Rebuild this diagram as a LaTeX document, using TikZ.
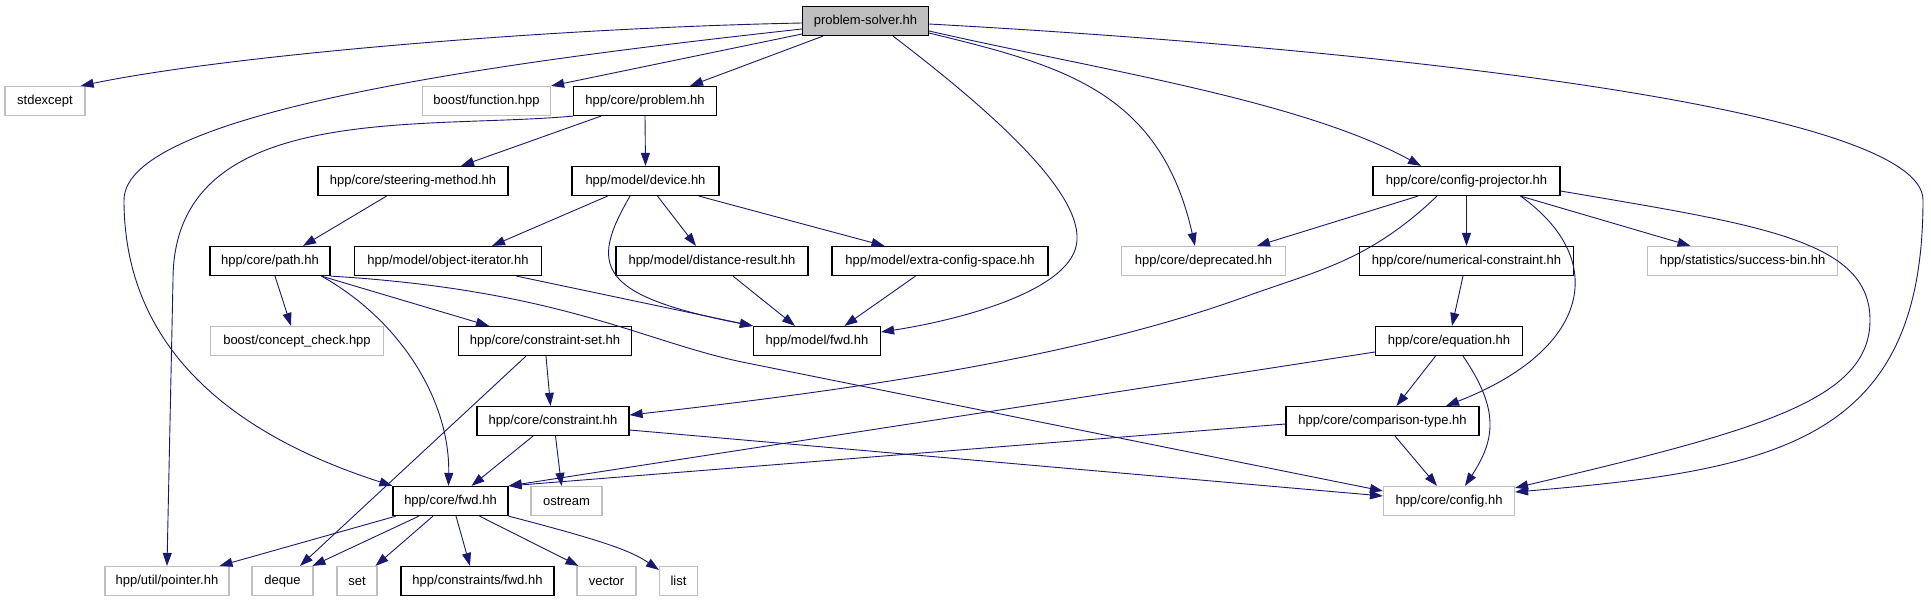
\documentclass[tikz,border=0pt]{standalone}
\usepackage{fontspec}
\setmainfont{Liberation Sans}
\usetikzlibrary{arrows.meta}
\definecolor{edgeblue}{HTML}{191970}
\definecolor{grayborder}{HTML}{BFBFBF}
\definecolor{psfill}{HTML}{BFBFBF}
\tikzset{
  filebox/.style={draw=black, line width=1.2pt, fill=white, minimum height=29pt, inner sep=0pt, font=\fontsize{13}{15}\selectfont},
  extbox/.style={draw=grayborder, line width=1.2pt, fill=white, minimum height=29pt, inner sep=0pt, font=\fontsize{13}{15}\selectfont},
  rootbox/.style={filebox, fill=psfill},
  edge/.style={draw=edgeblue, line width=0.9pt, -{Triangle[length=13pt,width=9pt]}},
}
\begin{document}
\begin{tikzpicture}[x=1pt,y=-1pt]
\useasboundingbox (0,0) rectangle (1931,603);
\fill[white] (0,0) rectangle (1931,603);
% nodes
\node[rootbox, minimum width=126pt] (ps) at (865.5,21) {problem-solver.hh};
\node[extbox, minimum width=80pt] (stdexcept) at (45,101) {stdexcept};
\node[extbox, minimum width=128pt] (bfunc) at (486.5,101) {boost/function.hpp};
\node[filebox, minimum width=143pt] (problem) at (645,101) {hpp/core/problem.hh};
\node[filebox, minimum width=190pt] (steering) at (413,181) {hpp/core/steering-method.hh};
\node[filebox, minimum width=147pt] (device) at (645.5,181) {hpp/model/device.hh};
\node[filebox, minimum width=187pt] (cproj) at (1466.5,181) {hpp/core/config-projector.hh};
\node[filebox, minimum width=120pt] (path) at (270,261) {hpp/core/path.hh};
\node[filebox, minimum width=187pt] (objit) at (448,261) {hpp/model/object-iterator.hh};
\node[filebox, minimum width=192pt] (distres) at (712,261) {hpp/model/distance-result.hh};
\node[filebox, minimum width=216pt] (extracs) at (940,261) {hpp/model/extra-config-space.hh};
\node[extbox, minimum width=164pt] (deprec) at (1203.5,261) {hpp/core/deprecated.hh};
\node[filebox, minimum width=214pt] (numc) at (1466.5,261) {hpp/core/numerical-constraint.hh};
\node[extbox, minimum width=190pt] (succ) at (1742.5,261) {hpp/statistics/success-bin.hh};
\node[extbox, minimum width=173pt] (concept) at (297,341) {boost/concept\_check.hpp};
\node[filebox, minimum width=173pt] (cset) at (545,341) {hpp/core/constraint-set.hh};
\node[filebox, minimum width=127pt] (mfwd) at (817,341) {hpp/model/fwd.hh};
\node[filebox, minimum width=147pt] (equation) at (1449,341) {hpp/core/equation.hh};
\node[filebox, minimum width=152pt] (constraint) at (553,421) {hpp/core/constraint.hh};
\node[filebox, minimum width=193pt] (comptype) at (1382.5,421) {hpp/core/comparison-type.hh};
\node[filebox, minimum width=115pt] (cfwd) at (450.5,501) {hpp/core/fwd.hh};
\node[extbox, minimum width=71pt] (ostream) at (566.5,501) {ostream};
\node[extbox, minimum width=131pt] (config) at (1449,501) {hpp/core/config.hh};
\node[extbox, minimum width=124pt] (pointer) at (167,581) {hpp/util/pointer.hh};
\node[extbox, minimum width=61pt] (deque) at (282.5,581) {deque};
\node[extbox, minimum width=40pt] (set) at (357,581) {set};
\node[filebox, minimum width=153pt] (ctfwd) at (477.5,581) {hpp/constraints/fwd.hh};
\node[extbox, minimum width=59pt] (vector) at (606.5,581) {vector};
\node[extbox, minimum width=38pt] (list) at (678.5,581) {list};
% edges from problem-solver
\draw[edge] ([yshift=-2pt]ps.west) .. controls (550,28) and (230,55) .. ([xshift=-5pt]stdexcept.north east);
\draw[edge] ([yshift=-13pt]ps.west) -- (bfunc.north east);
\draw[edge] ([xshift=-42.5pt]ps.south) -- ([xshift=45pt]problem.north);
\draw[edge] ([yshift=-8pt]ps.west) .. controls (520,60) and (124,110) .. (124,200) .. controls (124,360) and (250,440) .. (cfwd.north west);
\draw[edge] ([xshift=27.5pt]ps.south) .. controls (990,110) and (1080,190) .. (1077,240) .. controls (1075,290) and (960,320) .. ([yshift=9pt]mfwd.east);
\draw[edge] ([yshift=-12pt]ps.east) .. controls (1060,65) and (1160,90) .. ([xshift=-8.5pt]deprec.north);
\draw[edge] ([yshift=-10pt]ps.east) .. controls (1100,70) and (1300,100) .. ([xshift=-45.5pt]cproj.north);
\draw[edge] ([yshift=-3pt]ps.east) .. controls (1400,50) and (1923,110) .. (1923,200) .. controls (1923,440) and (1780,470) .. ([yshift=9pt]config.east);
% problem
\draw[edge] (problem.south west) .. controls (420,130) and (173,100) .. (173,280) -- (pointer.north);
\draw[edge] ([xshift=-44pt]problem.south) -- ([xshift=48pt]steering.north);
\draw[edge] (problem.south) -- (device.north);
% steering
\draw[edge] ([xshift=-26.5pt]steering.south) -- ([xshift=33pt]path.north);
% device
\draw[edge] ([xshift=-38pt]device.south) -- ([xshift=44pt]objit.north);
\draw[edge] ([xshift=-15.5pt]device.south) .. controls (590,265) and (595,295) .. (mfwd.north west);
\draw[edge] ([xshift=12pt]device.south) -- ([xshift=-16pt]distres.north);
\draw[edge] ([xshift=53.5pt]device.south) -- ([xshift=-55.5pt]extracs.north);
% path
\draw[edge] ([xshift=5pt]path.south) -- ([xshift=-6pt]concept.north);
\draw[edge] ([xshift=51.5pt]path.south) .. controls (400,320) and (450,400) .. ([xshift=-2pt]cfwd.north);
\draw[edge] ([xshift=51.5pt]path.south) -- ([xshift=-56pt]cset.north);
\draw[edge] (path.south east) .. controls (560,290) and (642,341) .. (742,362) -- ([yshift=10pt]config.west);
% model leaves
\draw[edge] ([xshift=68.5pt]objit.south) -- (mfwd.north west);
\draw[edge] ([xshift=21pt]distres.south) -- ([xshift=-22pt]mfwd.north);
\draw[edge] ([xshift=-24.5pt]extracs.south) -- ([xshift=27.5pt]mfwd.north);
% config-projector
\draw[edge] ([xshift=-48.5pt]cproj.south) -- ([xshift=53.5pt]deprec.north);
\draw[edge] ([xshift=-29.5pt]cproj.south) .. controls (1370,260) and (1320,270) .. (1250,295) .. controls (1100,350) and (900,385) .. ([yshift=6pt]constraint.east);
\draw[edge] (cproj.south) -- (numc.north);
\draw[edge] ([xshift=54pt]cproj.south) .. controls (1610,260) and (1590,350) .. ([xshift=63.5pt]comptype.north);
\draw[edge] ([xshift=54pt]cproj.south) -- ([xshift=-52pt]succ.north);
\draw[edge] ([yshift=-10pt]cproj.east) .. controls (1760,225) and (1870,240) .. (1870,320) .. controls (1870,400) and (1760,430) .. ([yshift=-2pt]config.north east);
% numerical constraint
\draw[edge] ([xshift=-3.5pt]numc.south) -- ([xshift=3pt]equation.north);
% constraint-set
\draw[edge] ([xshift=-19pt]cset.south) -- ([xshift=17.5pt]deque.north);
\draw[edge] ([xshift=1pt]cset.south) -- ([xshift=-2.5pt]constraint.north);
% constraint
\draw[edge] ([xshift=-20pt]constraint.south) -- ([xshift=21pt]cfwd.north);
\draw[edge] ([xshift=2.5pt]constraint.south) -- ([xshift=-5pt]ostream.north);
\draw[edge] ([yshift=-9pt]constraint.east) -- ([yshift=5pt]config.west);
% equation
\draw[edge] ([yshift=-11pt]equation.west) -- (cfwd.north east);
\draw[edge] ([xshift=-13.5pt]equation.south) -- ([xshift=14pt]comptype.north);
\draw[edge] ([xshift=14pt]equation.south) .. controls (1500,410) and (1495,440) .. ([xshift=16pt]config.north);
% comparison-type
\draw[edge] ([yshift=-3pt]comptype.west) -- (cfwd.north east);
\draw[edge] ([xshift=12.5pt]comptype.south) -- ([xshift=-12pt]config.north);
% core fwd
\draw[edge] ([xshift=-54.5pt]cfwd.south) -- ([xshift=52.5pt]pointer.north);
\draw[edge] ([xshift=-31.5pt]cfwd.south) -- ([xshift=30pt]deque.north);
\draw[edge] ([xshift=-17.5pt]cfwd.south) -- ([xshift=18.5pt]set.north);
\draw[edge] ([xshift=5.5pt]cfwd.south) -- ([xshift=-7.5pt]ctfwd.north);
\draw[edge] ([xshift=29pt]cfwd.south) -- ([xshift=-28pt]vector.north);
\draw[edge] (cfwd.south east) .. controls (600,540) and (630,550) .. ([yshift=-4pt]list.north west);
\end{tikzpicture}
\end{document}
